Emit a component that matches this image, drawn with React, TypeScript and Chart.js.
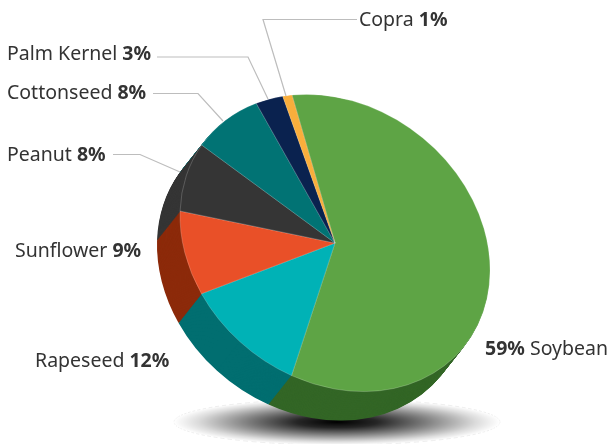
import React, { useEffect, useRef } from "react";
import { Chart, registerables } from "chart.js";

Chart.register(...registerables);

const categories = ["Soybean", "Rapeseed", "Sunflower", "Peanut", "Cottonseed", "Palm Kernel", "Copra"];
const shares = [59, 12, 9, 8, 8, 3, 1];

const topColors = ["#5ea445", "#00b2b6", "#e95028", "#353535", "#017374", "#0a224f", "#f9ae3c"];
const sideColors = ["#336626", "#016e70", "#8c2a0a", "#353535", "#017374", "#0a224f", "#f9ae3c"];

const FONT = '"Noto Sans"';
const FONT_SIZE = 19.5;
const TEXT_COLOR = "#333333";
const LINE_COLOR = "#bdbdbd";

// x, text baseline, and whether the percentage leads the label
const labelLayout = [
  { x: 485, y: 355, valueFirst: true },
  { x: 35, y: 367, valueFirst: false },
  { x: 15, y: 257, valueFirst: false },
  { x: 7, y: 161, valueFirst: false },
  { x: 7, y: 99, valueFirst: false },
  { x: 7, y: 60, valueFirst: false },
  { x: 359, y: 26, valueFirst: false },
];

const leaderLines: number[][][] = [
  [],
  [],
  [],
  [[113, 154.5], [140, 154.5], [180, 172]],
  [[153, 93.5], [198, 93.5], [223, 121]],
  [[157, 57], [248, 57], [268, 99]],
  [[357, 19.5], [263, 19.5], [286, 96]],
];

// Oblique projection of the round pie onto the page
const FACE = { cx: 335, cy: 243, a: 155, b: 1.9, c: 25.4, d: 146.4 };
const DEPTH = { dx: -23, dy: 29, steps: 44 };
const SHADOW = { cx: 337, cy: 422, rx: 163, ry: 23 };

function applyFace(ctx: CanvasRenderingContext2D, arc: any, dx = 0, dy = 0) {
  const R = arc.outerRadius;
  ctx.translate(FACE.cx + dx, FACE.cy + dy);
  ctx.transform(FACE.a / R, FACE.c / R, FACE.b / R, FACE.d / R, 0, 0);
  ctx.translate(-arc.x, -arc.y);
}

const piePlugin = {
  id: "obliquePie",
  beforeDatasetsDraw(chart: any) {
    const ctx: CanvasRenderingContext2D = chart.ctx;
    const arcs = chart.getDatasetMeta(0).data;

    // ground shadow
    ctx.save();
    ctx.translate(SHADOW.cx, SHADOW.cy);
    ctx.scale(1, SHADOW.ry / SHADOW.rx);
    const g = ctx.createRadialGradient(0, 0, 0, 0, 0, SHADOW.rx);
    g.addColorStop(0, "rgba(0,0,0,1)");
    g.addColorStop(0.25, "rgba(0,0,0,0.85)");
    g.addColorStop(0.55, "rgba(0,0,0,0.5)");
    g.addColorStop(0.85, "rgba(0,0,0,0.14)");
    g.addColorStop(1, "rgba(0,0,0,0)");
    ctx.fillStyle = g;
    ctx.beginPath();
    ctx.arc(0, 0, SHADOW.rx, 0, Math.PI * 2);
    ctx.fill();
    ctx.strokeStyle = "rgba(0,0,0,0.12)";
    ctx.lineWidth = 1;
    ctx.setLineDash([6, 4]);
    ctx.stroke();
    ctx.restore();

    // extruded side: the library's own arcs repeated from far to near
    for (let s = DEPTH.steps; s >= 1; s--) {
      const t = s / DEPTH.steps;
      arcs.forEach((arc: any, i: number) => {
        const saved = arc.options;
        arc.options = { ...saved, backgroundColor: sideColors[i], borderWidth: 0 };
        ctx.save();
        applyFace(ctx, arc, DEPTH.dx * t, DEPTH.dy * t);
        arc.draw(ctx);
        ctx.restore();
        arc.options = saved;
      });
    }

    // top face is drawn next by Chart.js, in the same projection
    ctx.save();
    applyFace(ctx, arcs[0]);
  },
  afterDatasetsDraw(chart: any) {
    chart.ctx.restore();
  },
  afterDraw(chart: any) {
    const ctx: CanvasRenderingContext2D = chart.ctx;
    ctx.save();
    ctx.strokeStyle = LINE_COLOR;
    ctx.lineWidth = 1.2;
    leaderLines.forEach((pts) => {
      if (!pts.length) return;
      ctx.beginPath();
      pts.forEach(([x, y], k) => (k ? ctx.lineTo(x, y) : ctx.moveTo(x, y)));
      ctx.stroke();
    });
    ctx.fillStyle = TEXT_COLOR;
    ctx.textBaseline = "alphabetic";
    ctx.textAlign = "left";
    categories.forEach((name, i) => {
      const { x, y, valueFirst } = labelLayout[i];
      const value = `${shares[i]}%`;
      const parts = valueFirst
        ? [{ t: value + " ", bold: true }, { t: name, bold: false }]
        : [{ t: name + " ", bold: false }, { t: value, bold: true }];
      let px = x;
      parts.forEach((p) => {
        ctx.font = `${p.bold ? "bold " : ""}${FONT_SIZE}px ${FONT}`;
        ctx.fillText(p.t, px, y);
        px += ctx.measureText(p.t).width;
      });
    });
    ctx.restore();
  },
};

export default function App() {
  const ref = useRef<HTMLCanvasElement>(null);
  useEffect(() => {
    const chart = new Chart(ref.current!, {
      type: "pie",
      data: {
        labels: categories,
        datasets: [
          {
            data: shares,
            backgroundColor: topColors,
            borderColor: "rgba(255,255,255,0.45)",
            borderWidth: 0.5,
            hoverOffset: 0,
          },
        ],
      },
      options: {
        responsive: false,
        animation: false,
        events: [],
        rotation: -15.4,
        layout: { padding: 40 },
        plugins: { legend: { display: false }, tooltip: { enabled: false } },
      },
      plugins: [piePlugin],
    } as any);
    return () => chart.destroy();
  }, []);
  return (
    <canvas
      ref={ref}
      width={611}
      height={444}
      style={{ position: "absolute", left: 0, top: 0, width: 611, height: 444, display: "block" }}
    />
  );
}
